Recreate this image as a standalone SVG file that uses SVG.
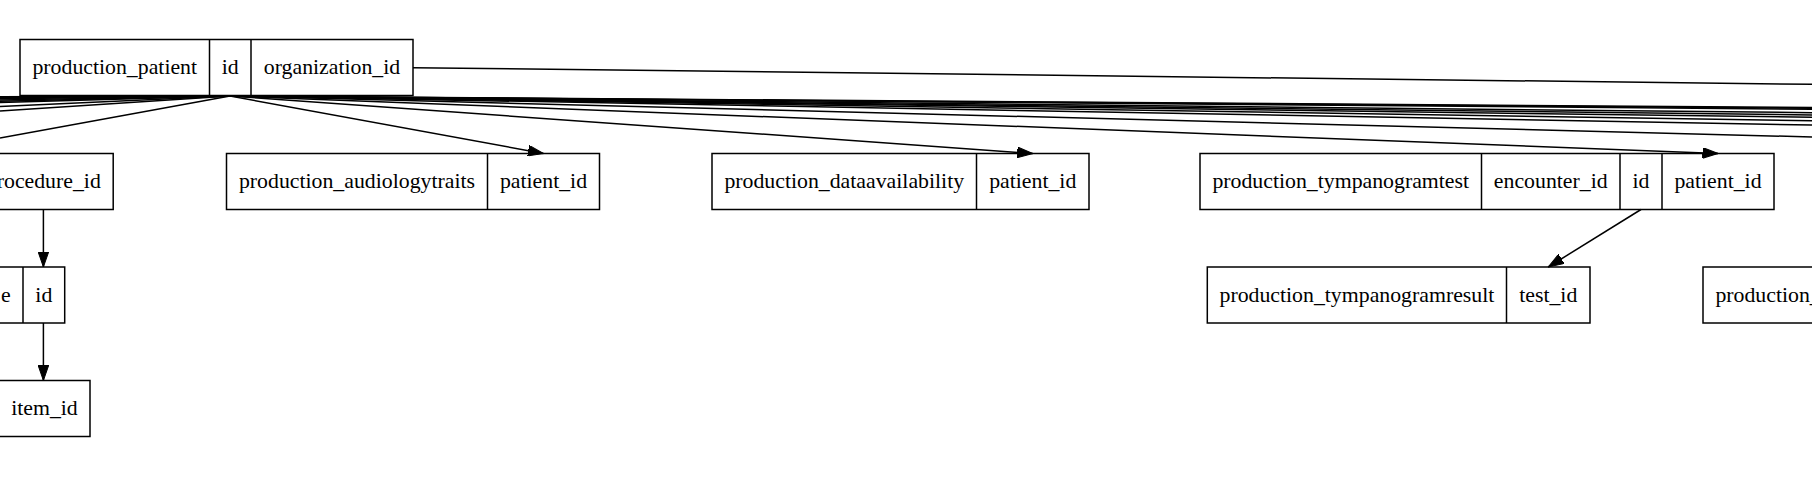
<svg xmlns="http://www.w3.org/2000/svg" width="1812" height="486" viewBox="0 0 1812 486">
<style>
.box{fill:#fff;stroke:#000;stroke-width:1.5}
.div{stroke:#000;stroke-width:1.5}
.t{font-family:"Liberation Serif","Times New Roman",serif;font-size:21.8px;fill:#000;text-anchor:middle}
.te{text-anchor:end}
.ts{text-anchor:start}
.e{stroke:#000;stroke-width:1.5;fill:none}
</style>
<defs>
<marker id="arr" markerUnits="userSpaceOnUse" markerWidth="16" markerHeight="11" refX="15.5" refY="5.4" orient="auto">
<path d="M0,0 L15.5,5.4 L0,10.8 z" fill="#000" stroke="#000" stroke-width="1"/>
</marker>
</defs>
<rect x="0" y="0" width="1812" height="486" fill="#fff"/>

<g id="production_patient">
<rect class="box" x="20" y="39.5" width="393" height="56"/>
<line class="div" x1="209.5" y1="39.5" x2="209.5" y2="95.5"/>
<line class="div" x1="251" y1="39.5" x2="251" y2="95.5"/>
<text class="t" x="114.75" y="74">production_patient</text>
<text class="t" x="230.25" y="74">id</text>
<text class="t" x="332" y="74">organization_id</text>
</g>

<g id="node_procedure">
<rect class="box" x="-200" y="153.5" width="313.2" height="56"/>
<text class="t te" x="100.8" y="188">rocedure_id</text>
</g>

<g id="node_row3_left">
<rect class="box" x="-200" y="267" width="264.7" height="56"/>
<line class="div" x1="23" y1="267" x2="23" y2="323"/>
<text class="t te" x="10.6" y="301.5">e</text>
<text class="t" x="43.85" y="301.5">id</text>
</g>

<g id="node_item">
<rect class="box" x="-1.1" y="380.5" width="91.1" height="56"/>
<text class="t" x="44.45" y="415">item_id</text>
</g>

<g id="production_audiologytraits">
<rect class="box" x="226.5" y="153.5" width="373" height="56"/>
<line class="div" x1="487.5" y1="153.5" x2="487.5" y2="209.5"/>
<text class="t" x="357" y="188">production_audiologytraits</text>
<text class="t" x="543.5" y="188">patient_id</text>
</g>

<g id="production_dataavailability">
<rect class="box" x="712" y="153.5" width="377" height="56"/>
<line class="div" x1="976.5" y1="153.5" x2="976.5" y2="209.5"/>
<text class="t" x="844.25" y="188">production_dataavailability</text>
<text class="t" x="1032.75" y="188">patient_id</text>
</g>

<g id="production_tympanogramtest">
<rect class="box" x="1200" y="153.5" width="574" height="56"/>
<line class="div" x1="1481.5" y1="153.5" x2="1481.5" y2="209.5"/>
<line class="div" x1="1620" y1="153.5" x2="1620" y2="209.5"/>
<line class="div" x1="1662" y1="153.5" x2="1662" y2="209.5"/>
<text class="t" x="1340.75" y="188">production_tympanogramtest</text>
<text class="t" x="1550.75" y="188">encounter_id</text>
<text class="t" x="1641" y="188">id</text>
<text class="t" x="1718" y="188">patient_id</text>
</g>

<g id="production_tympanogramresult">
<rect class="box" x="1207.3" y="267" width="382.7" height="56"/>
<line class="div" x1="1506.5" y1="267" x2="1506.5" y2="323"/>
<text class="t" x="1356.9" y="301.5">production_tympanogramresult</text>
<text class="t" x="1548.25" y="301.5">test_id</text>
</g>

<g id="node_right_clipped">
<rect class="box" x="1703" y="267" width="400" height="56"/>
<text class="t ts" x="1715.4" y="301.5">production_</text>
</g>

<g id="connectors">
<path class="e" d="M413,67.7 L1830,84.5"/>
<path class="e" d="M230,96 L1812,107.5"/>
<path class="e" d="M230,96 L1812,108.3"/>
<path class="e" d="M230,96 L1812,109.2"/>
<path class="e" d="M230,96 L1812,112.7"/>
<path class="e" d="M230,96 L1812,115"/>
<path class="e" d="M230,96 L1812,117.3"/>
<path class="e" d="M230,96 L1812,120.7"/>
<path class="e" d="M230,96 L1812,125"/>
<path class="e" d="M230,96 L1812,137"/>
<path class="e" d="M230,96 L0,96.8"/>
<path class="e" d="M230,96 L0,97.8"/>
<path class="e" d="M230,96 L0,98.8"/>
<path class="e" d="M230,96 L0,100"/>
<path class="e" d="M230,96 L0,101.3"/>
<path class="e" d="M230,96 L0,102.6"/>
<path class="e" d="M230,96 L0,106.5"/>
<path class="e" d="M230,96 L0,111"/>
<path class="e" d="M230,96 L0,138"/>
<path class="e" d="M230,96 L543.5,153.5" marker-end="url(#arr)"/>
<path class="e" d="M230,96 L1032.75,153.5" marker-end="url(#arr)"/>
<path class="e" d="M230,96 L1718,153.5" marker-end="url(#arr)"/>
<path class="e" d="M43.4,209.5 L43.4,267" marker-end="url(#arr)"/>
<path class="e" d="M43.4,323 L43.4,380.5" marker-end="url(#arr)"/>
<path class="e" d="M1641,209.5 L1548.25,267" marker-end="url(#arr)"/>
</g>
</svg>
